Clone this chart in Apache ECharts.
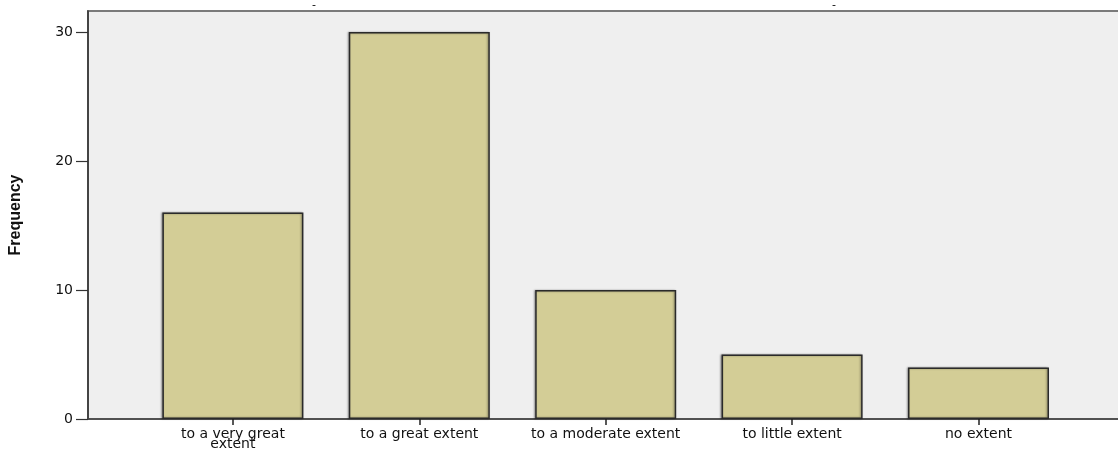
<!DOCTYPE html>
<html>
<head>
<meta charset="utf-8">
<script src="https://cdn.jsdelivr.net/npm/echarts@6/dist/echarts.min.js"></script>
<style>
html,body{margin:0;padding:0;background:#fff;}
#chart{width:1118px;height:449px;}
</style>
</head>
<body>
<div id="chart"></div>
<script>
var categories = ['to a very great\nextent', 'to a great extent', 'to a moderate extent', 'to little extent', 'no extent'];
var frequency = [16, 30, 10, 5, 4];
var yTicks = [0, 10, 20, 30];
var yTitle = 'Frequency';

var chart = echarts.init(document.getElementById('chart'), null, {renderer: 'canvas'});
var yMax = 31.63;
var option = {
  backgroundColor: '#ffffff',
  animation: false,
  grid: [
    {left: 88, top: 11, width: 1040, bottom: 30, outerBoundsMode: 'none', containLabel: false,
     show: true, backgroundColor: '#EFEFEF', borderColor: '#7a7a7a', borderWidth: 2},
    {left: 139.7, top: 11, width: 932, bottom: 30, outerBoundsMode: 'none', containLabel: false}
  ],
  xAxis: [
    {gridIndex: 0, type: 'value', min: 0, max: 1,
     axisLine: {show: true, lineStyle: {color: '#444', width: 1.5}},
     axisTick: {show: false}, axisLabel: {show: false}, splitLine: {show: false}},
    {gridIndex: 1, type: 'category', data: categories,
     axisLine: {show: false},
     axisTick: {show: true, alignWithLabel: true, length: 6, lineStyle: {color: '#222', width: 1.5}},
     axisLabel: {interval: 0, margin: 10, fontFamily: 'DejaVu Sans', fontSize: 14, lineHeight: 10, color: '#111'},
     splitLine: {show: false}}
  ],
  yAxis: [
    {gridIndex: 0, type: 'value', min: 0, max: yMax, interval: 10,
     axisLine: {show: true, lineStyle: {color: '#333', width: 1.5}},
     axisTick: {show: true, length: 12, lineStyle: {color: '#333', width: 1.2},
                customValues: yTicks},
     axisLabel: {margin: 15, fontFamily: 'DejaVu Sans', fontSize: 14, color: '#111', customValues: yTicks},
     splitLine: {show: false},
     name: yTitle, nameLocation: 'middle', nameGap: 64, nameRotate: 90,
     nameTextStyle: {fontFamily: 'Liberation Sans Narrow, Arial Narrow, sans-serif', fontWeight: 'bold', fontSize: 16, color: '#111'}},
    {gridIndex: 1, type: 'value', min: 0, max: yMax, show: false, splitLine: {show: false}}
  ],
  graphic: [
    {type: 'text', left: 312, top: 0, style: {text: '-', fontSize: 11, fill: '#000', fontFamily: 'DejaVu Sans'}},
    {type: 'text', left: 832, top: 0, style: {text: '-', fontSize: 11, fill: '#000', fontFamily: 'DejaVu Sans'}}
  ],
  series: [{
    type: 'bar', xAxisIndex: 1, yAxisIndex: 1, data: frequency, barWidth: 141,
    itemStyle: {color: '#D3CD96', borderColor: '#2a2a2a', borderWidth: 1.5,
                shadowColor: 'rgba(0,0,0,0.35)', shadowBlur: 2, shadowOffsetX: -1}
  }]
};
chart.setOption(option);
</script>
</body>
</html>
